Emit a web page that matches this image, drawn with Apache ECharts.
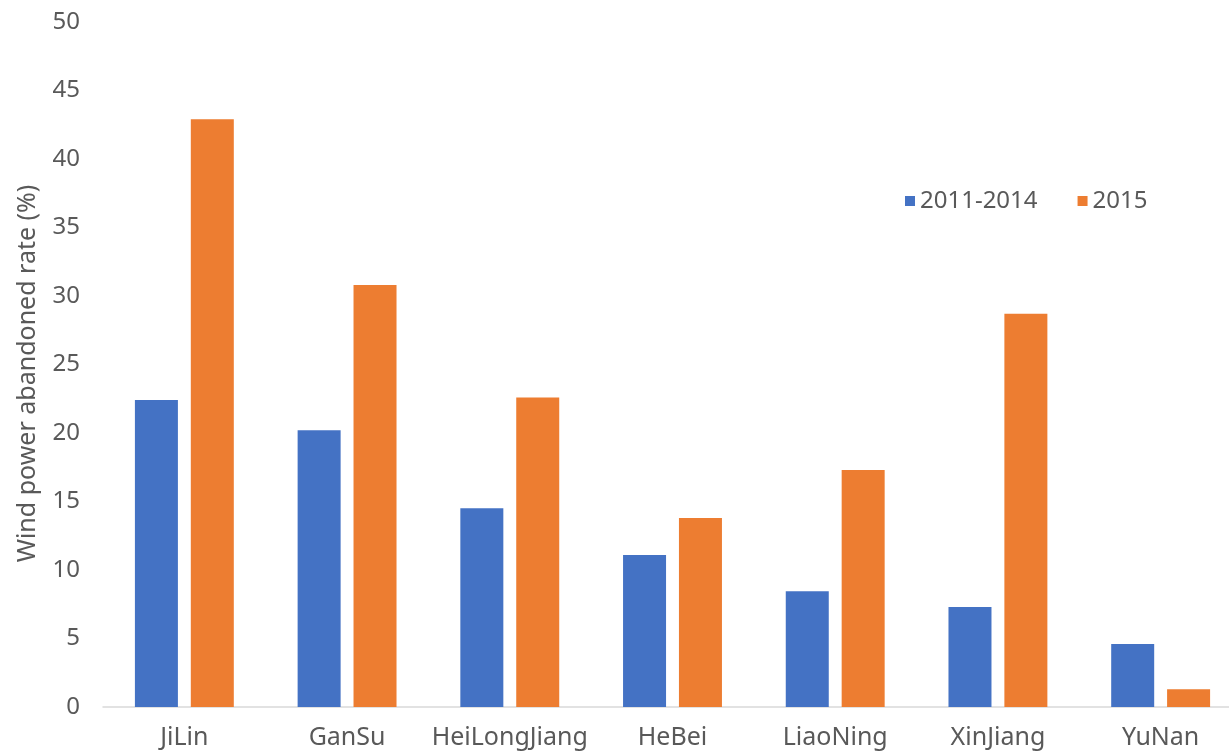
<!DOCTYPE html>
<html>
<head>
<meta charset="utf-8">
<script src="https://cdn.jsdelivr.net/npm/echarts@6/dist/echarts.min.js"></script>
<style>
html,body{margin:0;padding:0;background:#fff;overflow:hidden;}
#chart{width:1242px;height:755px;}
</style>
</head>
<body>
<div id="chart"></div>
<script>
const categories = ["JiLin", "GanSu", "HeiLongJiang", "HeBei", "LiaoNing", "XinJiang", "YuNan"];
const series2011_2014 = [22.4, 20.2, 14.5, 11.1, 8.45, 7.3, 4.6];
const series2015 = [42.9, 30.8, 22.6, 13.8, 17.3, 28.7, 1.3];
const seriesNames = ["2011-2014", "2015"];
const yAxisName = "Wind power abandoned rate (%)";

const FONT = "Noto Sans";
const chart = echarts.init(document.getElementById('chart'), null, {renderer: 'canvas'});
chart.setOption({
  backgroundColor: '#ffffff',
  animation: false,
  textStyle: {fontFamily: FONT},
  legend: {
    data: seriesNames,
    left: 900, top: 184,
    itemWidth: 10, itemHeight: 10, itemGap: 40,
    icon: 'rect',
    textStyle: {fontSize: 24, color: '#595959', fontFamily: FONT}
  },
  grid: {left: 103, right: 0, top: 22, bottom: 48, containLabel: false},
  xAxis: {
    type: 'category',
    data: categories,
    axisLine: {lineStyle: {color: '#d9d9d9', width: 1.5}},
    axisTick: {show: false},
    axisLabel: {fontSize: 25, color: '#595959', margin: 18, interval: 0, fontFamily: FONT}
  },
  yAxis: {
    type: 'value',
    min: 0, max: 50, interval: 5,
    name: yAxisName,
    nameLocation: 'middle',
    nameGap: 63,
    nameTextStyle: {fontSize: 25, color: '#595959', fontFamily: FONT, padding: [0, 18, 0, 0]},
    axisLine: {show: false},
    axisTick: {show: false},
    splitLine: {show: false},
    axisLabel: {fontSize: 24, color: '#595959', margin: 23, fontFamily: FONT}
  },
  series: [
    {name: seriesNames[0], type: 'bar', data: series2011_2014, barWidth: 43, barGap: '30%',
     itemStyle: {color: '#4472C4'}},
    {name: seriesNames[1], type: 'bar', data: series2015, barWidth: 43, barGap: '30%',
     itemStyle: {color: '#ED7D31'}}
  ]
});
</script>
</body>
</html>
